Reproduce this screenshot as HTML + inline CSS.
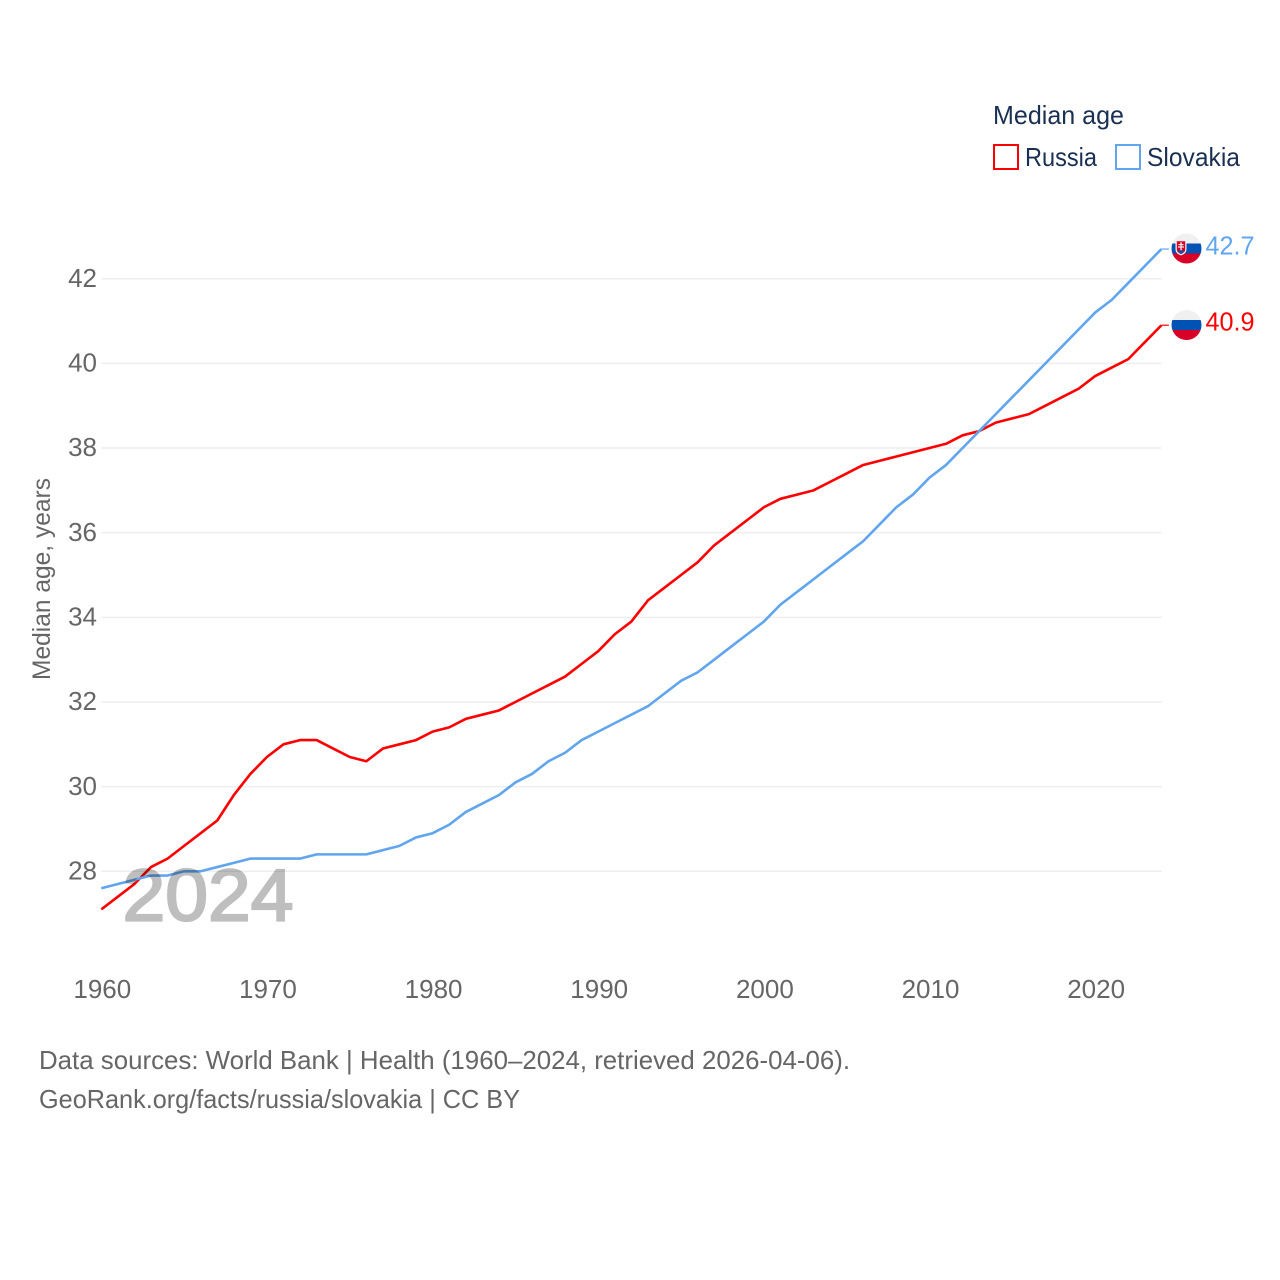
<!DOCTYPE html>
<html lang="en">
<head>
<meta charset="utf-8">
<title>Median age: Russia and Slovakia</title>
<style>
html,body{margin:0;padding:0;background:#fff;}
svg{display:block;}
text{font-family:"Liberation Sans",sans-serif;}
</style>
</head>
<body>
<svg id="chart" xmlns="http://www.w3.org/2000/svg" width="1280" height="1280" viewBox="0 0 1280 1280">
<rect width="1280" height="1280" fill="#fff"/>
<defs>
<clipPath id="clip-sk"><circle cx="1186.5" cy="248.5" r="15"/></clipPath>
<clipPath id="clip-ru"><circle cx="1186.5" cy="325" r="15"/></clipPath>
</defs>
<g id="grid"></g>
<g id="yticks"></g>
<g id="xticks"></g>
<text transform="translate(50,579) rotate(-90)" text-anchor="middle" font-size="25" fill="#666" textLength="202" lengthAdjust="spacingAndGlyphs">Median age, years</text>
<g id="series"></g>
<g opacity="0.25">
<text x="122.500" y="920.500" font-size="73" font-weight="400" fill="#000" stroke="#000" stroke-width="2.2" textLength="171" lengthAdjust="spacingAndGlyphs">2024</text>
</g>

<g>
<text x="993" y="124" font-size="26" fill="#1a3053" textLength="131" lengthAdjust="spacingAndGlyphs">Median age</text>
<g>
<rect x="994" y="145" width="24" height="24" fill="#fff" stroke="#ff0000" stroke-width="2"/>
<text x="1025" y="166" font-size="26" fill="#1a3053" textLength="72" lengthAdjust="spacingAndGlyphs">Russia</text>
</g>
<g>
<rect x="1116" y="145" width="24" height="24" fill="#fff" stroke="#60a5ee" stroke-width="2"/>
<text x="1147" y="166" font-size="26" fill="#1a3053" textLength="93" lengthAdjust="spacingAndGlyphs">Slovakia</text>
</g>
</g>

<g clip-path="url(#clip-sk)">
<rect x="1170" y="232" width="34" height="12" fill="#f0f0f0"/>
<rect x="1170" y="243.500" width="34" height="10" fill="#0052b4"/>
<rect x="1170" y="253.500" width="34" height="12" fill="#d80027"/>
<path d="M1175.500 240h11v9.500q0 4-5.500 6q-5.500-2-5.500-6z" fill="#f0f0f0"/>
<path d="M1176.800 241.200h8.400v8.200q0 3-4.200 4.800q-4.200-1.800-4.200-4.800z" fill="#d80027"/>
<rect x="1180.400" y="242.200" width="1.300" height="8.500" fill="#f0f0f0"/>
<rect x="1178.600" y="244" width="4.900" height="1.200" fill="#f0f0f0"/>
<rect x="1178" y="246.400" width="6" height="1.200" fill="#f0f0f0"/>
<path d="M1177.500 251.500q3.500-2.500 7 0l-3.500 2.500z" fill="#0052b4"/>
</g>
<g clip-path="url(#clip-ru)">
<rect x="1170" y="308" width="34" height="12" fill="#f0f0f0"/>
<rect x="1170" y="320" width="34" height="10" fill="#0052b4"/>
<rect x="1170" y="330" width="34" height="12" fill="#d80027"/>
</g>
<text x="1205.500" y="254.500" font-size="26" fill="#60a5ee" textLength="49" lengthAdjust="spacingAndGlyphs">42.7</text>
<text x="1205.500" y="330.500" font-size="26" fill="#ff0000" textLength="49" lengthAdjust="spacingAndGlyphs">40.9</text>

<text x="39" y="1069" font-size="26" fill="#666" textLength="811" lengthAdjust="spacingAndGlyphs">Data sources: World Bank | Health (1960–2024, retrieved 2026-04-06).</text>
<text x="39" y="1108" font-size="26" fill="#666" textLength="481" lengthAdjust="spacingAndGlyphs">GeoRank.org/facts/russia/slovakia | CC BY</text>
</svg>
<script>
const years = [1960,1961,1962,1963,1964,1965,1966,1967,1968,1969,1970,1971,1972,1973,1974,1975,1976,1977,1978,1979,1980,1981,1982,1983,1984,1985,1986,1987,1988,1989,1990,1991,1992,1993,1994,1995,1996,1997,1998,1999,2000,2001,2002,2003,2004,2005,2006,2007,2008,2009,2010,2011,2012,2013,2014,2015,2016,2017,2018,2019,2020,2021,2022,2023,2024];
const russia = [27.1,27.4,27.7,28.1,28.3,28.6,28.9,29.2,29.8,30.3,30.7,31.0,31.1,31.1,30.9,30.7,30.6,30.9,31.0,31.1,31.3,31.4,31.6,31.7,31.8,32.0,32.2,32.4,32.6,32.9,33.2,33.6,33.9,34.4,34.7,35.0,35.3,35.7,36.0,36.3,36.6,36.8,36.9,37.0,37.2,37.4,37.6,37.7,37.8,37.9,38.0,38.1,38.3,38.4,38.6,38.7,38.8,39.0,39.2,39.4,39.7,39.9,40.1,40.5,40.9];
const slovakia = [27.6,27.7,27.8,27.9,27.9,28.0,28.0,28.1,28.2,28.3,28.3,28.3,28.3,28.4,28.4,28.4,28.4,28.5,28.6,28.8,28.9,29.1,29.4,29.6,29.8,30.1,30.3,30.6,30.8,31.1,31.3,31.5,31.7,31.9,32.2,32.5,32.7,33.0,33.3,33.6,33.9,34.3,34.6,34.9,35.2,35.5,35.8,36.2,36.6,36.9,37.3,37.6,38.0,38.4,38.8,39.2,39.6,40.0,40.4,40.8,41.2,41.5,41.9,42.3,42.7];
const yTickValues = [28,30,32,34,36,38,40,42];
const xTickValues = [1960,1970,1980,1990,2000,2010,2020];

const SVGNS = 'http://www.w3.org/2000/svg';
const xScale = function (year) { return 101.3 + (year - 1960) * (1161.4 - 101.3) / 64; };
const yScale = function (value) { return 871.3 - (value - 28) * (871.3 - 278.7) / 14; };

const gridGroup = document.getElementById('grid');
const yTickGroup = document.getElementById('yticks');
const xTickGroup = document.getElementById('xticks');
const seriesGroup = document.getElementById('series');

yTickValues.forEach(function (v) {
  const line = document.createElementNS(SVGNS, 'line');
  
  
  line.setAttribute('x1', xScale(1960));
  line.setAttribute('x2', xScale(2024));
  line.setAttribute('y1', yScale(v));
  line.setAttribute('y2', yScale(v));
  line.setAttribute('stroke', '#eeeeee');
  line.setAttribute('stroke-width', '1.5');
  gridGroup.appendChild(line);

  const label = document.createElementNS(SVGNS, 'text');
  
  
  label.setAttribute('x', 97);
  label.setAttribute('y', yScale(v) + 8.2);
  label.setAttribute('text-anchor', 'end');
  label.setAttribute('font-size', '26');
  label.setAttribute('fill', '#666');
  label.textContent = String(v);
  yTickGroup.appendChild(label);
});

xTickValues.forEach(function (v) {
  const label = document.createElementNS(SVGNS, 'text');
  
  
  label.setAttribute('x', xScale(v) + 1);
  label.setAttribute('y', 998);
  label.setAttribute('text-anchor', 'middle');
  label.setAttribute('font-size', '26');
  label.setAttribute('fill', '#666');
  label.textContent = String(v);
  xTickGroup.appendChild(label);
});

function drawSeries(name, values, color) {
  const pts = values.map(function (v, i) {
    return xScale(years[i]).toFixed(2) + ',' + yScale(v).toFixed(2);
  }).join(' ');
  const line = document.createElementNS(SVGNS, 'polyline');
  
  
  line.setAttribute('points', pts);
  line.setAttribute('fill', 'none');
  line.setAttribute('stroke', color);
  line.setAttribute('stroke-width', '2.6');
  line.setAttribute('stroke-linejoin', 'round');
  seriesGroup.appendChild(line);

  const lastValue = values[values.length - 1];
  const connector = document.createElementNS(SVGNS, 'line');
  
  
  connector.setAttribute('x1', xScale(2024));
  connector.setAttribute('x2', xScale(2024) + 7.5);
  connector.setAttribute('y1', yScale(lastValue));
  connector.setAttribute('y2', yScale(lastValue));
  connector.setAttribute('stroke', color);
  connector.setAttribute('stroke-width', '1.5');
  connector.setAttribute('stroke-opacity', '0.8');
  seriesGroup.appendChild(connector);
}
drawSeries('russia', russia, '#ff0000');
drawSeries('slovakia', slovakia, '#60a5ee');
</script>
</body>
</html>
